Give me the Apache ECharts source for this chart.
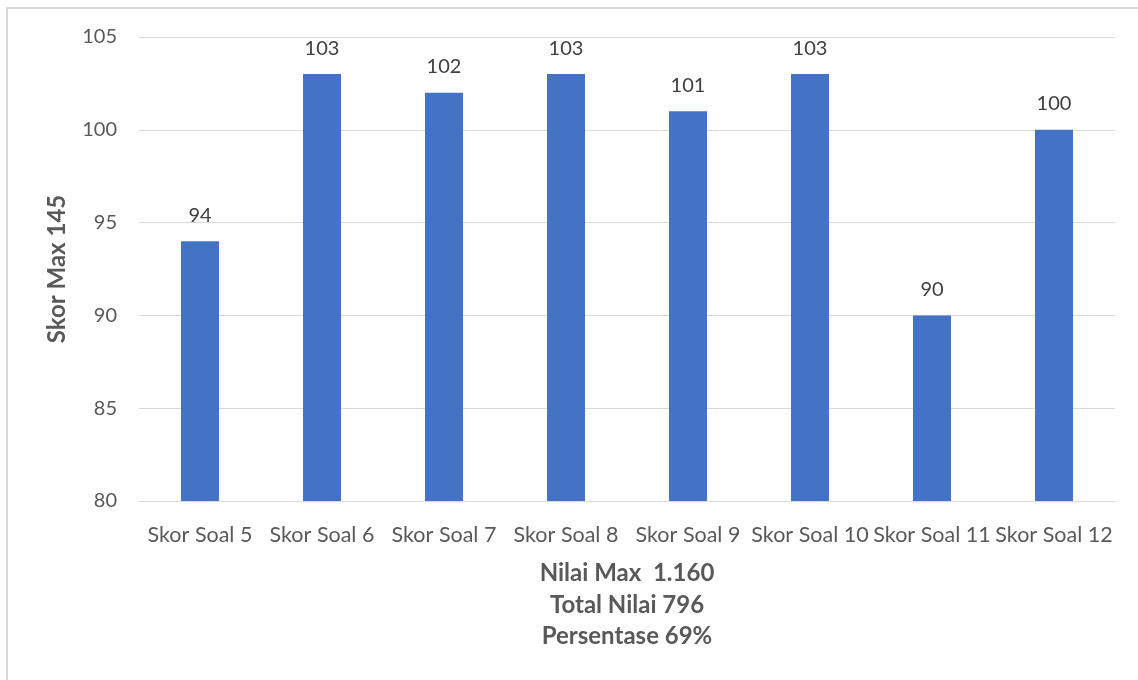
<!DOCTYPE html>
<html>
<head>
<meta charset="utf-8">
<script src="https://cdn.jsdelivr.net/npm/echarts@6/dist/echarts.min.js"></script>
<style>
  html, body { margin: 0; padding: 0; background: #fff; }
  #frame { position: absolute; left: 6px; top: 7px; width: 1140px; height: 680px; border: 2px solid #d9d9d9; box-sizing: border-box; }
  #chart { position: absolute; left: 0; top: 0; width: 1138px; height: 680px; }
</style>
</head>
<body>
<div id="frame"></div>
<div id="chart"></div>
<script>
const categories = ["Skor Soal 5", "Skor Soal 6", "Skor Soal 7", "Skor Soal 8", "Skor Soal 9", "Skor Soal 10", "Skor Soal 11", "Skor Soal 12"];
const scores = [94, 103, 102, 103, 101, 103, 90, 100];
const footerLines = ["Nilai Max  1.160", "Total Nilai 796", "Persentase 69%"];

const font = "Lato, 'Open Sans', sans-serif";
const myChart = echarts.init(document.getElementById("chart"));

myChart.setOption({
  animation: false,
  grid: { left: 139, right: 23, top: 37, bottom: 179 },
  title: {
    text: footerLines.join("\n"),
    left: 622,
    top: 553,
    textAlign: "center",
    textStyle: { fontFamily: font, fontSize: 24, fontWeight: "bold", color: "#595959", lineHeight: 31.5 }
  },
  xAxis: {
    type: "category",
    data: categories,
    axisLine: { lineStyle: { color: "#d9d9d9", width: 1 } },
    axisTick: { show: false },
    axisLabel: { interval: 0, margin: 23, fontFamily: font, fontSize: 21.5, color: "#595959" }
  },
  yAxis: {
    type: "value",
    min: 80,
    max: 105,
    interval: 5,
    name: "Skor Max 145",
    nameLocation: "middle",
    nameGap: 70,
    nameTextStyle: { fontFamily: font, fontSize: 24, fontWeight: "bold", color: "#595959" },
    axisLine: { show: false },
    axisTick: { show: false },
    splitLine: { lineStyle: { color: "#d9d9d9", width: 1 } },
    axisLabel: { margin: 22, fontFamily: font, fontSize: 20, color: "#595959" }
  },
  series: [{
    type: "bar",
    data: scores,
    barWidth: 38,
    itemStyle: { color: "#4472c4" },
    label: { show: true, position: "top", distance: 16, fontFamily: font, fontSize: 20, color: "#404040" }
  }]
});
</script>
</body>
</html>
